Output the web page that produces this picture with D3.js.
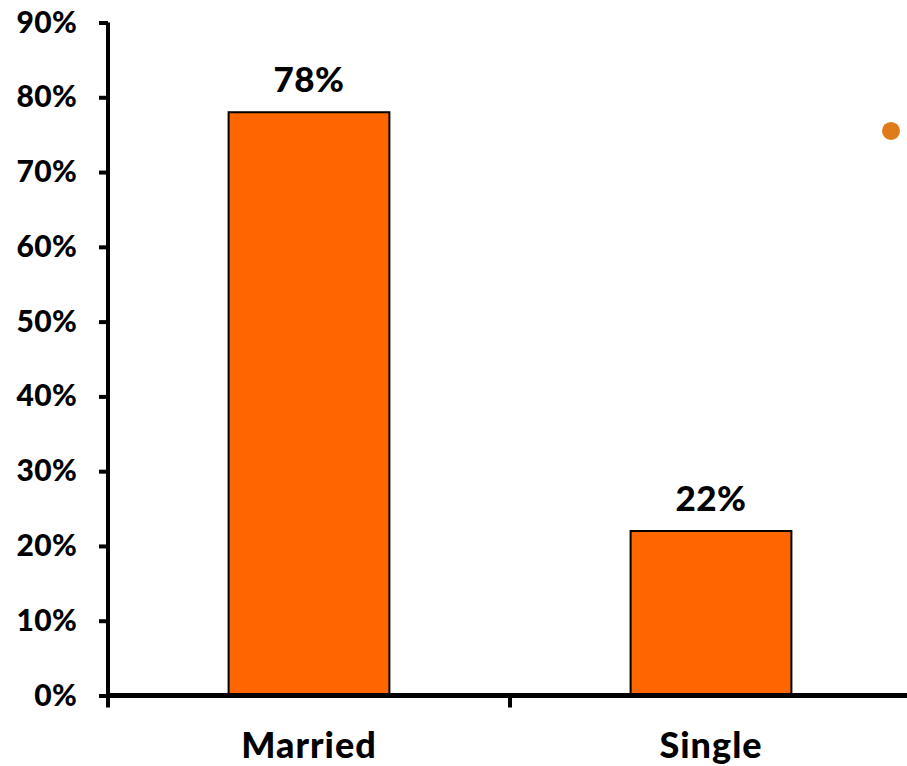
<!DOCTYPE html>
<html><head><meta charset="utf-8">
<script src="https://cdn.jsdelivr.net/npm/d3@7"></script>
<style>body{margin:0;background:#fff}svg{display:block}text{font-family:"Lato","Noto Sans",sans-serif;font-weight:900;fill:#000}</style>
</head><body>
<svg id="c" width="907" height="766"></svg>
<script>
const categories = ["Married", "Single"];
const values = [78, 22];
const valueLabels = ["78%", "22%"];
const yTicks = [0, 10, 20, 30, 40, 50, 60, 70, 80, 90];

const svg = d3.select("#c");
const y = d3.scaleLinear().domain([0, 90]).range([695.5, 22.5]);
const x = d3.scaleBand().domain(categories).range([108, 912]).paddingInner(0.6).paddingOuter(0.3);
const step = x.step();

// bars
svg.selectAll("rect.bar").data(values).join("rect")
  .attr("x", (d, i) => x(categories[i]))
  .attr("y", d => y(d))
  .attr("width", x.bandwidth())
  .attr("height", d => y(0) - y(d))
  .attr("fill", "#FF6600").attr("stroke", "#000").attr("stroke-width", 2);

// value labels
svg.selectAll("text.val").data(values).join("text")
  .attr("x", (d, i) => x(categories[i]) + x.bandwidth() / 2)
  .attr("y", d => y(d) - 20)
  .attr("text-anchor", "middle").style("font-size", "35px").style("letter-spacing", "0.5px")
  .text((d, i) => valueLabels[i]);

// y axis
const yAxis = d3.axisLeft(y).tickValues(yTicks).tickFormat(d => d + "%").tickSize(9).tickPadding(22);
const gy = svg.append("g").attr("transform", "translate(108,0)").call(yAxis);
gy.select(".domain").attr("stroke", "#000").attr("stroke-width", 4).attr("d", `M0,${y(90)}V${y(0) + 12}`);
gy.selectAll(".tick line").attr("stroke", "#000").attr("stroke-width", 4);
gy.selectAll(".tick text").style("font-size", "30px").style("font-family", "Lato").style("font-weight", 900)
  .style("letter-spacing", "0.3px").attr("fill", "#000");

// x axis
const gx = svg.append("g").attr("transform", `translate(0,${y(0)})`);
gx.append("line").attr("x1", 106).attr("x2", 907).attr("y1", 0).attr("y2", 0).attr("stroke", "#000").attr("stroke-width", 5);
gx.append("line").attr("x1", 108 + step).attr("x2", 108 + step).attr("y1", 0).attr("y2", 12).attr("stroke", "#000").attr("stroke-width", 4);
gx.selectAll("text.cat").data(categories).join("text")
  .attr("x", d => x(d) + x.bandwidth() / 2)
  .attr("y", 62)
  .attr("text-anchor", "middle").style("font-size", "36px").style("letter-spacing", "1px")
  .text(d => d);

// stray marker
svg.append("circle").attr("cx", 891).attr("cy", y(75.5)).attr("r", 9).attr("fill", "#E07B1A");
</script>
</body></html>
